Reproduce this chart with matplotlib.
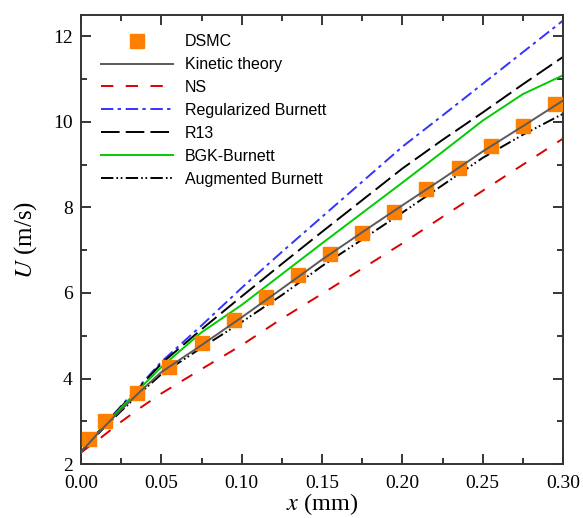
import matplotlib
matplotlib.use("Agg")
import matplotlib.pyplot as plt
from matplotlib.ticker import MultipleLocator

# x positions (mm) of the model curves
x_line = [0.0, 0.0125, 0.025, 0.0375, 0.05, 0.075, 0.1, 0.125, 0.15, 0.175, 0.2, 0.225, 0.25, 0.275, 0.3]

kinetic = [2.28, 2.80, 3.27, 3.72, 4.15, 4.78, 5.43, 6.10, 6.78, 7.42, 8.05, 8.67, 9.31, 9.90, 10.50]
ns = [2.27, 2.62, 2.99, 3.33, 3.65, 4.22, 4.78, 5.40, 5.98, 6.57, 7.16, 7.78, 8.39, 9.00, 9.61]
reg_burnett = [2.28, 2.83, 3.36, 3.87, 4.39, 5.24, 6.12, 6.96, 7.78, 8.60, 9.42, 10.15, 10.89, 11.63, 12.37]
r13 = [2.28, 2.83, 3.34, 3.84, 4.35, 5.15, 5.92, 6.68, 7.43, 8.17, 8.91, 9.58, 10.22, 10.88, 11.52]
bgk_burnett = [2.28, 2.82, 3.32, 3.80, 4.27, 5.08, 5.72, 6.44, 7.16, 7.87, 8.58, 9.30, 10.03, 10.65, 11.09]
aug_burnett = [2.28, 2.78, 3.24, 3.68, 4.10, 4.72, 5.32, 5.95, 6.63, 7.25, 7.88, 8.52, 9.16, 9.70, 10.19]

# DSMC samples
x_dsmc = [0.005, 0.015, 0.035, 0.055, 0.075, 0.095, 0.115, 0.135, 0.155, 0.175, 0.195, 0.215, 0.235, 0.255, 0.275, 0.295]
u_dsmc = [2.58, 3.0, 3.67, 4.26, 4.83, 5.36, 5.91, 6.43, 6.91, 7.41, 7.9, 8.42, 8.92, 9.44, 9.91, 10.41]


def main():
    plt.rcParams["lines.scale_dashes"] = False
    plt.rcParams["mathtext.fontset"] = "stix"

    fig = plt.figure(figsize=(5.83, 5.18), dpi=100)
    ax = fig.add_axes([0.139, 0.1042, 0.8267, 0.8668])

    lw = 1.4
    ax.plot(x_dsmc, u_dsmc, ls="none", marker="s", ms=9.5, color="#ff8000",
            mec="#ff8000", label="DSMC", zorder=3)
    ax.plot(x_line, kinetic, color="#5a5a5a", lw=lw, label="Kinetic theory", zorder=4)
    ax.plot(x_line, ns, color="#dd0000", lw=lw, dashes=(8.9, 8.9), label="NS")
    ax.plot(x_line, reg_burnett, color="#3333ff", lw=lw, dashes=(8.9, 3.1, 2.4, 3.4),
            label="Regularized Burnett")
    ax.plot(x_line, r13, color="black", lw=lw, dashes=(13.4, 4.4), label="R13")
    ax.plot(x_line, bgk_burnett, color="#00cc00", lw=lw, label="BGK-Burnett")
    ax.plot(x_line, aug_burnett, color="black", lw=lw,
            dashes=(8.9, 2.2, 1.2, 1.9, 1.2, 2.4), label="Augmented Burnett")

    ax.set_xlim(0, 0.3)
    ax.set_ylim(2, 12.5)
    ax.xaxis.set_major_locator(MultipleLocator(0.05))
    ax.xaxis.set_minor_locator(MultipleLocator(0.025))
    ax.yaxis.set_major_locator(MultipleLocator(2))
    ax.yaxis.set_minor_locator(MultipleLocator(1))
    ax.xaxis.set_major_formatter(lambda v, p: f"{v:.2f}")

    ax.tick_params(which="both", direction="in", top=True, right=True, width=1.1,
                   labelsize=14)
    ax.tick_params(which="major", length=7, pad=6)
    ax.tick_params(axis="x", which="major", pad=8)
    ax.tick_params(which="minor", length=4)
    for lab in ax.get_xticklabels() + ax.get_yticklabels():
        lab.set_family("Liberation Serif")
    for s in ax.spines.values():
        s.set_linewidth(1.4)
        s.set_color("#333333")

    ax.set_xlabel(r"$x$ (mm)", family="Liberation Serif", fontsize=17.5, labelpad=-1)
    ax.set_ylabel(r"$U$ (m/s)", family="Liberation Serif", fontsize=18, labelpad=10)

    ax.legend(loc="upper left", bbox_to_anchor=(0.0415, 0.9575), frameon=False,
              borderpad=0, borderaxespad=0, handlelength=4.5, handletextpad=0.75,
              labelspacing=0.5, prop={"family": "Liberation Sans", "size": 11.5})

    fig.savefig("out.png", dpi=100)


if __name__ == "__main__":
    main()
